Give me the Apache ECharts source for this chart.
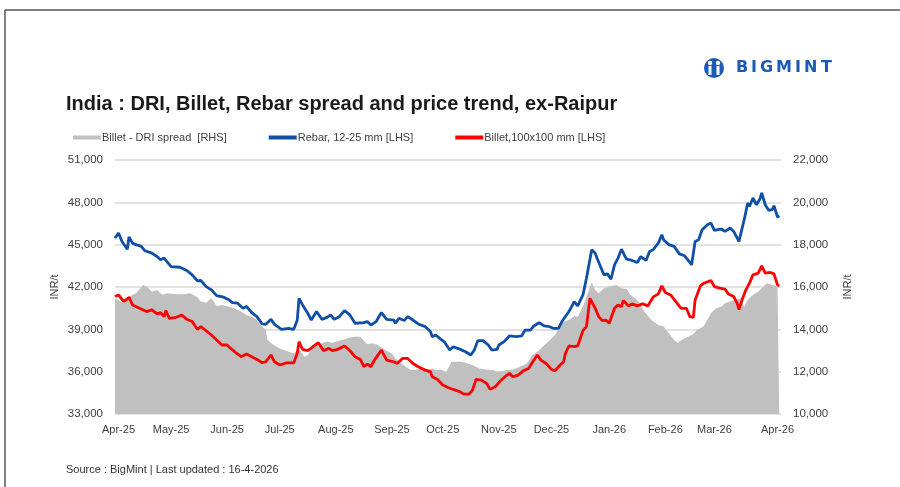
<!DOCTYPE html>
<html>
<head>
<meta charset="utf-8">
<script src="https://cdn.jsdelivr.net/npm/echarts@6/dist/echarts.min.js"></script>
<style>
  html, body { margin: 0; padding: 0; background: #fff; }
  #chart { width: 900px; height: 487px; }
</style>
</head>
<body>
<div id="chart"></div>
<script>
// x values are days counted from 1 Apr 2025
const labelDays = [2, 32, 64, 94, 126, 158, 187, 219, 249, 282, 314, 342, 378]
const monthLabels = ['Apr-25', 'May-25', 'Jun-25', 'Jul-25', 'Aug-25', 'Sep-25', 'Oct-25',
  'Nov-25', 'Dec-25', 'Jan-26', 'Feb-26', 'Mar-26', 'Apr-26']

const rebar = [
  [0,45470],[2,45820],[4,45230],[7,44680],[8,45540],[10,45110],[12,45000],[15,44880],[17,44570],
  [21,44400],[24,44160],[26,43930],[28,44050],[32,43450],[37,43400],[41,43170],[44,42860],[47,42440],
  [49,42460],[52,42030],[55,41800],[58,41390],[62,41280],[65,41090],[67,40900],[70,40850],[73,40500],
  [75,40620],[78,40190],[81,39900],[84,39380],[86,39360],[89,39710],[91,39350],[95,39000],[99,39070],
  [102,39000],[104,39665],[105,41200],[107,40730],[110,40140],[112,39660],[115,40260],[118,39710],
  [121,39850],[123,40020],[125,39710],[128,39900],[131,40330],[134,40020],[137,39430],[142,39480],
  [144,39550],[146,39310],[149,39550],[152,40190],[155,39710],[159,39660],[160,39430],[162,39780],
  [165,39620],[167,39900],[170,39660],[173,39380],[177,39190],[180,38840],[181,38480],[183,38600],
  [186,38290],[188,38100],[191,37530],[193,37770],[197,37580],[200,37410],[203,37180],[205,37530],
  [207,38200],[210,38200],[213,37890],[215,37530],[218,37580],[219,37890],[222,38130],[225,38530],
  [229,38480],[232,38530],[234,38950],[237,38950],[239,39240],[242,39470],[245,39240],[248,39190],
  [250,39070],[253,39070],[255,39550],[256,39660],[259,40260],[262,40970],[264,40660],[267,41440],
  [269,42620],[270,42620],[272,44640],[274,44400],[275,44050],[277,43450],[279,42860],[281,42930],
  [283,42550],[285,43570],[287,44050],[289,44680],[291,44170],[292,43970],[295,43880],[298,43740],
  [300,44160],[303,43880],[305,44520],[307,44640],[310,45110],[312,45700],[313,45350],[316,45000],
  [319,44880],[322,44350],[325,44210],[328,43740],[329,43570],[331,45230],[333,45350],[335,46060],
  [338,46410],[340,46530],[342,46010],[344,46060],[346,46110],[348,45940],[351,46180],[353,45940],
  [356,45230],[357,45350],[359,46770],[361,47950],[362,47710],[364,48310],[366,47830],[368,48240],
  [369,48660],[371,47830],[373,47430],[375,47480],[376,47760],[378,46960],[379,47050]
]

const billet = [
  [0,41320],[2,41440],[5,40970],[8,41270],[10,40730],[14,40490],[18,40260],[21,40380],[24,40090],
  [26,40180],[28,39900],[29,40330],[31,39780],[35,39850],[38,40020],[41,39710],[44,39550],[47,39000],
  [49,39190],[52,38900],[55,38600],[58,38240],[61,37890],[64,37890],[66,37650],[69,37340],[72,37060],
  [75,37250],[78,37060],[81,36870],[84,36630],[86,36700],[89,37180],[91,36700],[94,36470],[95,36350],
  [98,36630],[102,36630],[104,37300],[105,38130],[107,37580],[110,37490],[113,37770],[116,38050],
  [119,37490],[122,37650],[124,37490],[127,37580],[131,37820],[134,37490],[137,37060],[140,36870],
  [142,36350],[144,36540],[146,36350],[148,36820],[152,37530],[155,36820],[159,36700],[161,36580],
  [164,36940],[167,36940],[170,36580],[173,36350],[177,36110],[180,35990],[181,35640],[184,35450],
  [187,35050],[190,34880],[193,34740],[197,34570],[199,34410],[202,34410],[204,34690],[206,35450],
  [209,35400],[212,35170],[214,34760],[217,34930],[218,34880],[220,35360],[223,35690],[225,35880],
  [227,35640],[230,35760],[233,36060],[236,36230],[238,36630],[241,37180],[243,36820],[246,36580],
  [249,36160],[251,36060],[254,36470],[256,36700],[257,37300],[259,37820],[262,37770],[264,37820],
  [267,38910],[269,39190],[271,41200],[274,40490],[276,39900],[278,39620],[280,39660],[282,39430],
  [283,39310],[285,40490],[287,40730],[289,40610],[290,41040],[293,40660],[295,40800],[298,40660],
  [301,40800],[304,40660],[307,41280],[310,41510],[312,42080],[314,41610],[317,41440],[320,40970],
  [323,40490],[326,40490],[328,39900],[330,39850],[331,41080],[334,42080],[336,42270],[340,42460],
  [342,42030],[345,41920],[348,41850],[350,41510],[353,41320],[355,40850],[356,40400],[358,41160],
  [360,41800],[362,42270],[364,42860],[367,42980],[369,43500],[371,42980],[374,43030],[376,42930],
  [378,42150],[379,42080]
]

const spread = [
  [0,15470],[5,15230],[8,15550],[12,15700],[16,16100],[18,16020],[21,15780],[24,15860],[27,15630],
  [30,15700],[35,15660],[39,15660],[43,15700],[47,15510],[49,15310],[52,15260],[55,15470],[58,15100],
  [61,15150],[65,15070],[68,15000],[72,14840],[75,14680],[78,14600],[81,14440],[84,14130],[86,13970],
  [87,13500],[90,13300],[94,13100],[95,13100],[99,12940],[102,12860],[105,13100],[108,12700],[110,12780],
  [112,13100],[115,13260],[118,13340],[121,13420],[124,13370],[128,13460],[131,13530],[134,13620],
  [137,13650],[140,13650],[142,13460],[144,13300],[147,13340],[150,13260],[154,13020],[158,12860],
  [160,12620],[163,12420],[166,12230],[169,12070],[172,12100],[175,12150],[178,12100],[181,12150],
  [183,12070],[186,12100],[189,11990],[192,12470],[197,12470],[200,12420],[204,12310],[208,12150],
  [212,12100],[216,12070],[219,11990],[223,12070],[227,12100],[231,12230],[235,12390],[238,12780],
  [241,12940],[244,13180],[248,13490],[251,13730],[254,14120],[256,14360],[259,14440],[262,14630],
  [264,14600],[267,15070],[269,15550],[272,16210],[274,15860],[276,15700],[279,15940],[282,16020],
  [286,16100],[289,15940],[292,15900],[294,15630],[298,15390],[302,14840],[306,14440],[310,14200],
  [313,14130],[316,13810],[319,13500],[321,13370],[324,13530],[327,13650],[330,13780],[332,13970],
  [334,14050],[336,14160],[340,14760],[343,15000],[346,15070],[348,15230],[351,15310],[354,15390],
  [357,15470],[359,15070],[361,15390],[364,15630],[367,15780],[369,15940],[372,16180],[375,16100],
  [378,16020],[379,16020]
]

const FONT = "'Liberation Sans Narrow', 'Liberation Sans', Arial, sans-serif"
const BLUE = '#0f4fa8'
const RED = '#ff0000'
const GREY = '#c0c0c0'

const chart = echarts.init(document.getElementById('chart'))

const fmt = v => v.toLocaleString('en-US')

// logo letters are drawn one by one to keep the wide spacing
const logoLetters = ['B', 'I', 'G', 'M', 'I', 'N', 'T']
const logoX = [736, 751, 760, 776, 795, 804, 821]

const option = {
  animation: false,
  backgroundColor: '#fff',
  textStyle: { fontFamily: FONT },
  title: {
    text: 'India : DRI, Billet, Rebar spread and price trend, ex-Raipur',
    left: 61,
    top: 89,
    textStyle: { fontFamily: FONT, fontSize: 20, fontWeight: 'bold', color: '#1a1a1a' }
  },
  legend: {
    left: 68,
    top: 127,
    itemWidth: 28,
    itemHeight: 4,
    itemGap: 42,
    textStyle: { fontFamily: FONT, fontSize: 11, color: '#404040', padding: [0, 0, 0, -4] },
    data: [
      { name: 'Billet - DRI spread  [RHS]', icon: 'rect' },
      { name: 'Rebar, 12-25 mm [LHS]', icon: 'rect' },
      { name: 'Billet,100x100 mm [LHS]', icon: 'rect' }
    ]
  },
  grid: { left: 115, right: 119, top: 160, bottom: 73 },
  xAxis: {
    type: 'value',
    min: 0,
    max: 380,
    splitLine: { show: false },
    axisLine: { show: false },
    axisTick: { show: false },
    axisLabel: {
      customValues: labelDays,
      margin: 10,
      fontSize: 11,
      color: '#404040',
      formatter: v => monthLabels[labelDays.indexOf(v)]
    }
  },
  yAxis: [
    {
      type: 'value',
      min: 33000,
      max: 51000,
      interval: 3000,
      name: 'INR/t',
      nameLocation: 'middle',
      nameRotate: 90,
      nameGap: 55,
      nameMoveOverlap: false,
      nameTextStyle: { fontSize: 11, color: '#404040' },
      axisLine: { show: false },
      axisTick: { show: false },
      axisLabel: { fontSize: 11.5, color: '#404040', margin: 12, formatter: fmt },
      splitLine: { lineStyle: { color: '#d9d9d9', width: 1.5 } }
    },
    {
      type: 'value',
      min: 10000,
      max: 22000,
      interval: 2000,
      name: 'INR/t',
      nameLocation: 'middle',
      nameRotate: 90,
      nameGap: 61,
      nameMoveOverlap: false,
      nameTextStyle: { fontSize: 11, color: '#404040' },
      axisLine: { show: false },
      axisTick: { show: false },
      axisLabel: { fontSize: 11.5, color: '#404040', margin: 12, formatter: fmt },
      splitLine: { show: false }
    }
  ],
  series: [
    {
      name: 'Billet - DRI spread  [RHS]',
      type: 'line',
      yAxisIndex: 1,
      data: spread,
      symbol: 'none',
      color: GREY,
      lineStyle: { width: 0 },
      areaStyle: { color: GREY, opacity: 1, origin: 'start' },
      z: 1
    },
    {
      name: 'Rebar, 12-25 mm [LHS]',
      type: 'line',
      data: rebar,
      symbol: 'none',
      color: BLUE,
      lineStyle: { width: 2.8, color: BLUE },
      z: 3
    },
    {
      name: 'Billet,100x100 mm [LHS]',
      type: 'line',
      data: billet,
      symbol: 'none',
      color: RED,
      lineStyle: { width: 2.8, color: RED },
      z: 3
    }
  ],
  graphic: [
    // frame lines (top and left)
    { type: 'line', shape: { x1: 5, y1: 10, x2: 900, y2: 10 }, style: { stroke: '#555', lineWidth: 1.5 } },
    { type: 'line', shape: { x1: 5, y1: 10, x2: 5, y2: 487 }, style: { stroke: '#555', lineWidth: 1.5 } },
    // logo mark
    { type: 'circle', shape: { cx: 714, cy: 68, r: 10 }, style: { fill: '#1c5bb5' } },
    { type: 'circle', shape: { cx: 710, cy: 63, r: 2.2 }, style: { fill: '#fff' } },
    { type: 'circle', shape: { cx: 718, cy: 63, r: 2.2 }, style: { fill: '#fff' } },
    { type: 'rect', shape: { x: 708.5, y: 66, width: 3, height: 9 }, style: { fill: '#fff' } },
    { type: 'rect', shape: { x: 716.5, y: 66, width: 3, height: 9 }, style: { fill: '#fff' } },
    ...logoLetters.map((ch, i) => ({
      type: 'text',
      left: logoX[i],
      top: 60,
      style: { text: ch, fill: '#1c5bb5', font: "bold 16px 'DejaVu Sans', sans-serif" }
    })),
    {
      type: 'text',
      left: 66,
      top: 464,
      style: { text: 'Source : BigMint | Last updated : 16-4-2026', fill: '#333', font: "11px " + FONT }
    }
  ]
}

chart.setOption(option)
</script>
</body>
</html>
